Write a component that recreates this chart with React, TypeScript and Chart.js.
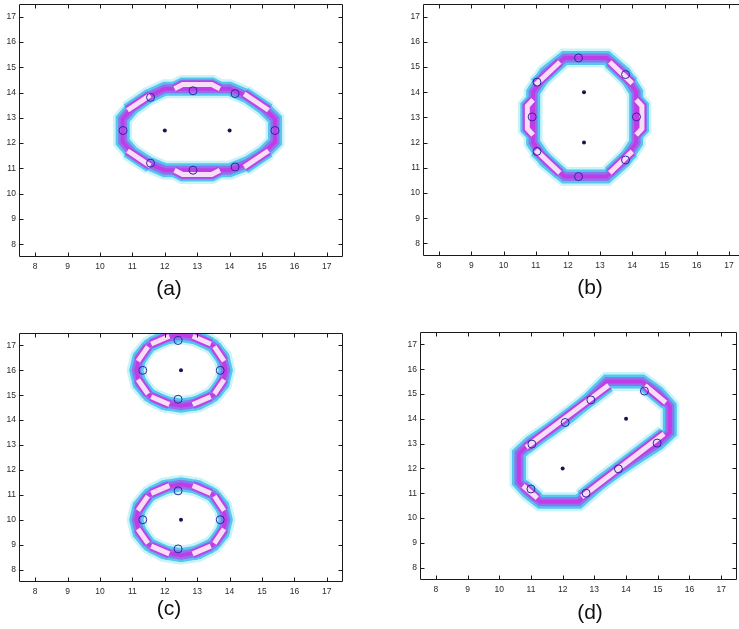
import React, { useEffect, useRef } from 'react';
import { Chart, registerables } from 'chart.js';

Chart.register(...registerables);

type P = [number, number];

const AXIS_MIN = 7.5;
const AXIS_MAX = 17.5;
const TICK_VALUES = [8, 9, 10, 11, 12, 13, 14, 15, 16, 17];

// ---------- panel (a) ----------
const aContour: P[] = [
  [10.7, 12.5], [10.7, 12.95], [11.0, 13.4], [11.5, 13.85], [12.0, 14.15], [14.0, 14.15],
  [14.55, 13.85], [15.05, 13.4], [15.4, 12.95], [15.4, 12.05], [15.05, 11.6], [14.55, 11.2],
  [14.0, 10.93], [12.0, 10.93], [11.5, 11.2], [11.0, 11.6], [10.7, 12.05], [10.7, 12.5],
];
const aLenses: P[][] = [
  [[12.3, 14.15], [12.55, 14.32], [13.45, 14.32], [13.7, 14.15]],
  [[12.3, 10.93], [12.55, 10.76], [13.45, 10.76], [13.7, 10.93]],
  [[10.85, 13.3], [11.55, 13.9]],
  [[14.45, 13.95], [15.2, 13.3]],
  [[10.85, 11.7], [11.55, 11.1]],
  [[14.45, 11.05], [15.2, 11.7]],
];
const aCircles: P[] = [
  [11.56, 13.81], [12.87, 14.07], [14.17, 13.96], [10.71, 12.5],
  [15.4, 12.5], [11.56, 11.21], [12.87, 10.93], [14.17, 11.06],
];
const aCenters: P[] = [[12, 12.5], [14, 12.5]];

// ---------- panel (b) ----------
const bContour: P[] = [
  [10.92, 13.0], [10.92, 14.0], [11.3, 14.75], [11.9, 15.36], [13.2, 15.36], [13.75, 14.75],
  [14.12, 14.0], [14.12, 12.0], [13.75, 11.28], [13.2, 10.65], [11.9, 10.65], [11.3, 11.28],
  [10.92, 12.0], [10.92, 13.0],
];
const bLenses: P[][] = [
  [[10.92, 12.3], [10.74, 12.55], [10.74, 13.45], [10.92, 13.7]],
  [[14.12, 12.3], [14.3, 12.55], [14.3, 13.45], [14.12, 13.7]],
  [[11.0, 14.3], [11.75, 15.2]],
  [[13.3, 15.2], [14.0, 14.35]],
  [[11.0, 11.7], [11.75, 10.8]],
  [[13.3, 10.8], [14.0, 11.65]],
];
const bCircles: P[] = [
  [12.33, 15.36], [13.79, 14.7], [14.13, 13.02], [13.79, 11.31],
  [12.33, 10.65], [11.04, 11.65], [10.89, 13.02], [11.04, 14.4],
];
const bCenters: P[] = [[12.5, 14], [12.5, 12]];

// ---------- panel (c) ----------
const cContourTop: P[] = [
  [13.83, 16.27], [13.78, 16.54], [13.48, 17.0], [13.03, 17.31], [12.5, 17.42], [11.97, 17.31],
  [11.52, 17.0], [11.22, 16.54], [11.12, 16.0], [11.22, 15.46], [11.52, 15.0], [11.97, 14.69],
  [12.5, 14.58], [13.03, 14.69], [13.48, 15.0], [13.78, 15.46], [13.88, 16.0], [13.83, 16.27],
];
const cContourBottom: P[] = [
  [13.83, 10.27], [13.78, 10.54], [13.48, 11.0], [13.03, 11.31], [12.5, 11.42], [11.97, 11.31],
  [11.52, 11.0], [11.22, 10.54], [11.12, 10.0], [11.22, 9.46], [11.52, 9.0], [11.97, 8.69],
  [12.5, 8.58], [13.03, 8.69], [13.48, 9.0], [13.78, 9.46], [13.88, 10.0], [13.83, 10.27],
];
const cLenses: P[][] = [
  [[13.83, 16.37], [13.53, 16.95]], [[13.42, 17.06], [12.86, 17.37]],
  [[12.14, 17.37], [11.58, 17.06]], [[11.48, 16.95], [11.17, 16.37]],
  [[11.17, 15.63], [11.48, 15.05]], [[11.58, 14.94], [12.14, 14.63]],
  [[12.86, 14.63], [13.42, 14.94]], [[13.53, 15.05], [13.83, 15.63]],
  [[13.83, 10.37], [13.53, 10.95]], [[13.42, 11.06], [12.86, 11.37]],
  [[12.14, 11.37], [11.58, 11.06]], [[11.48, 10.95], [11.17, 10.37]],
  [[11.17, 9.63], [11.48, 9.05]], [[11.58, 8.94], [12.14, 8.63]],
  [[12.86, 8.63], [13.42, 8.94]], [[13.53, 9.05], [13.83, 9.63]],
];
const cCircles: P[] = [
  [12.41, 17.2], [11.32, 16.0], [13.71, 16.0], [12.41, 14.84],
  [12.41, 11.16], [11.32, 10.0], [13.71, 10.0], [12.41, 8.83],
];
const cCenters: P[] = [[12.5, 16], [12.5, 10]];

// ---------- panel (d) ----------
const dContour: P[] = [
  [10.62, 12.0], [10.62, 12.6], [11.0, 13.05], [11.6, 13.55], [12.2, 14.1], [12.8, 14.75],
  [13.4, 15.5], [14.5, 15.5], [15.0, 15.05], [15.38, 14.5], [15.38, 13.45], [15.0, 13.0],
  [14.4, 12.5], [13.8, 12.0], [13.2, 11.45], [12.5, 10.66], [11.3, 10.66], [10.9, 11.05],
  [10.62, 11.45], [10.62, 12.0],
];
const dLenses: P[][] = [
  [[10.85, 12.85], [13.45, 15.35]],
  [[12.6, 10.85], [15.2, 13.4]],
  [[14.6, 15.35], [15.25, 14.65]],
  [[10.75, 11.3], [11.2, 10.8]],
];
const dCircles: P[] = [
  [11.03, 12.98], [12.08, 13.85], [12.89, 14.76], [14.58, 15.12],
  [14.98, 13.02], [13.76, 11.98], [12.74, 11.0], [11.0, 11.17],
];
const dCenters: P[] = [[12, 12], [14, 14]];

// ---------- styling ----------
const GLOW = '#c8f3f9';
const CYAN = '#56c6ee';
const VIOLET = '#8c74ee';
const MAGENTA = '#c13ce6';
const PINK = '#f7ddf5';
const CIRCLE = '#2a2a9e';
const DOT = '#151550';
const FONT = '"Liberation Sans", Arial, Helvetica, sans-serif';

type PanelSpec = {
  label: string;
  area: [number, number, number, number];
  labelPos: [number, number];
  contours: P[][];
  lenses: P[][];
  circles: P[];
  centers: P[];
};

const PANELS: PanelSpec[] = [
  { label: '(a)', area: [19, 3, 343, 257], labelPos: [169, 288], contours: [aContour], lenses: aLenses, circles: aCircles, centers: aCenters },
  { label: '(b)', area: [423, 3, 745, 256], labelPos: [590, 287], contours: [bContour], lenses: bLenses, circles: bCircles, centers: bCenters },
  { label: '(c)', area: [19, 332, 343, 582], labelPos: [169, 608], contours: [cContourTop, cContourBottom], lenses: cLenses, circles: cCircles, centers: cCenters },
  { label: '(d)', area: [420, 331, 737, 580], labelPos: [590, 612], contours: [dContour], lenses: dLenses, circles: dCircles, centers: dCenters },
];

const Y_AXIS_W = 19;
const PAD_TOP = 4;
const PAD_RIGHT = 10;
const X_AXIS_H = 22;

const xy = (pts: P[]) => pts.map(([x, y]) => ({ x, y }));

const boxPlugin = {
  id: 'matlabBox',
  afterDraw(chart: any) {
    const { ctx, chartArea: a, scales } = chart;
    ctx.save();
    ctx.strokeStyle = '#1a1a1a';
    ctx.lineWidth = 1;
    const L = Math.round(a.left) + 0.5;
    const R = Math.round(a.right) - 0.5;
    const T = Math.round(a.top) + 0.5;
    const B = Math.round(a.bottom) - 0.5;
    ctx.beginPath();
    ctx.rect(L, T, R - L, B - T);
    for (const t of scales.x.ticks) {
      const px = Math.round(scales.x.getPixelForValue(t.value)) + 0.5;
      ctx.moveTo(px, B); ctx.lineTo(px, B - 4);
      ctx.moveTo(px, T); ctx.lineTo(px, T + 4);
    }
    for (const t of scales.y.ticks) {
      const py = Math.round(scales.y.getPixelForValue(t.value)) + 0.5;
      ctx.moveTo(L, py); ctx.lineTo(L + 4, py);
      ctx.moveTo(R, py); ctx.lineTo(R - 4, py);
    }
    ctx.stroke();
    ctx.restore();
  },
};

function lineDs(pts: P[], color: string, width: number, order: number) {
  return {
    data: xy(pts),
    showLine: true,
    borderColor: color,
    backgroundColor: color,
    borderWidth: width,
    borderJoinStyle: 'miter' as const,
    borderCapStyle: 'butt' as const,
    pointRadius: 0,
    pointHoverRadius: 0,
    tension: 0,
    fill: false,
    clip: 0,
    order,
  };
}

function buildDatasets(spec: PanelSpec) {
  const ds: any[] = [];
  for (const c of spec.contours) {
    ds.push(lineDs(c, GLOW, 19, 60));
    ds.push(lineDs(c, CYAN, 14, 50));
    ds.push(lineDs(c, VIOLET, 9, 40));
    ds.push(lineDs(c, MAGENTA, 4, 30));
  }
  for (const l of spec.lenses) {
    ds.push(lineDs(l, GLOW, 19, 59));
    ds.push(lineDs(l, CYAN, 14, 49));
    ds.push(lineDs(l, VIOLET, 10, 39));
    ds.push(lineDs(l, MAGENTA, 8, 20));
    ds.push(lineDs(l, PINK, 5, 10));
  }
  ds.push({
    data: xy(spec.circles),
    showLine: false,
    pointStyle: 'circle',
    pointRadius: 4,
    pointBorderWidth: 1,
    pointBorderColor: CIRCLE,
    pointBackgroundColor: 'rgba(0,0,0,0)',
    clip: 0,
    order: 2,
  });
  ds.push({
    data: xy(spec.centers),
    showLine: false,
    pointStyle: 'circle',
    pointRadius: 2,
    pointBorderWidth: 0,
    pointBackgroundColor: DOT,
    clip: 0,
    order: 1,
  });
  return ds;
}

function Panel({ spec }: { spec: PanelSpec }) {
  const ref = useRef<HTMLCanvasElement | null>(null);
  const [x0, y0, x1, y1] = spec.area;
  const left = x0 - Y_AXIS_W;
  const top = y0 - PAD_TOP;
  const width = Math.round(x1 + PAD_RIGHT - left);
  const height = Math.round(y1 + X_AXIS_H - top);

  useEffect(() => {
    if (!ref.current) return;
    const tickFont = { family: FONT, size: 8.5 };
    const chart = new Chart(ref.current, {
      type: 'scatter',
      data: { datasets: buildDatasets(spec) },
      plugins: [boxPlugin],
      options: {
        animation: false,
        responsive: false,
        devicePixelRatio: 1,
        events: [],
        layout: { padding: { top: PAD_TOP, right: PAD_RIGHT, left: 0, bottom: 0 } },
        plugins: { legend: { display: false }, tooltip: { enabled: false }, title: { display: false } },
        scales: {
          x: {
            type: 'linear',
            min: AXIS_MIN,
            max: AXIS_MAX,
            grid: { display: false, drawTicks: false },
            border: { display: false },
            ticks: { font: tickFont, color: '#2a2a2a', padding: 5, maxRotation: 0, autoSkip: false },
            afterBuildTicks: (s: any) => { s.ticks = TICK_VALUES.map((v) => ({ value: v })); },
            afterFit: (s: any) => { s.height = X_AXIS_H; s.paddingLeft = 0; s.paddingRight = 0; },
          },
          y: {
            type: 'linear',
            min: AXIS_MIN,
            max: AXIS_MAX,
            grid: { display: false, drawTicks: false },
            border: { display: false },
            ticks: { font: tickFont, color: '#2a2a2a', padding: 3, autoSkip: false },
            afterBuildTicks: (s: any) => { s.ticks = TICK_VALUES.map((v) => ({ value: v })); },
            afterFit: (s: any) => { s.width = Y_AXIS_W; s.paddingTop = 0; s.paddingBottom = 0; },
          },
        },
      } as any,
    });
    return () => chart.destroy();
  }, [spec]);

  return (
    <canvas
      ref={ref}
      width={width}
      height={height}
      style={{ position: 'absolute', left, top, width, height }}
    />
  );
}

export default function App() {
  return (
    <div
      style={{
        position: 'fixed',
        left: 0,
        top: 0,
        width: 739,
        height: 629,
        overflow: 'hidden',
        background: '#ffffff',
      }}
    >
      {PANELS.map((p) => (
        <Panel key={p.label} spec={p} />
      ))}
      {PANELS.map((p) => (
        <div
          key={'lbl' + p.label}
          style={{
            position: 'absolute',
            left: p.labelPos[0] - 40,
            top: p.labelPos[1] - 13,
            width: 80,
            height: 26,
            lineHeight: '26px',
            textAlign: 'center',
            fontFamily: FONT,
            fontSize: 21,
            color: '#111',
          }}
        >
          {p.label}
        </div>
      ))}
    </div>
  );
}
